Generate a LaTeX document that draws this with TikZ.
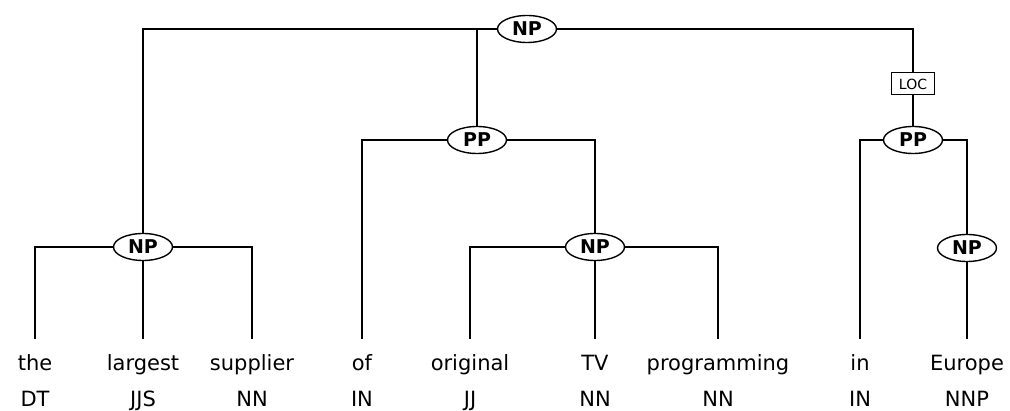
\documentclass[tikz,border=0pt]{standalone}
\usepackage{fontspec}
\setmainfont{DejaVu Sans}
\usetikzlibrary{shapes.geometric}
\begin{document}
\begin{tikzpicture}[x=1pt,y=-1pt,line width=1.1pt,
  cat/.style={ellipse, draw=black, line width=1.4pt, fill=white, minimum width=59pt, minimum height=27pt, inner sep=0pt, font=\fontsize{19}{19}\selectfont\bfseries},
  word/.style={anchor=base, text height=16pt, inner ysep=15pt, inner xsep=0pt, font=\fontsize{21}{21}\selectfont},
  tag/.style={anchor=base, inner sep=0pt, font=\fontsize{21}{21}\selectfont},
  role/.style={draw=black, line width=1pt, fill=white, minimum width=43pt, minimum height=22pt, inner sep=0pt, font=\fontsize{14}{14}\selectfont}]
\useasboundingbox (0,0) rectangle (1010,411);
% phrase nodes
\node [cat] (np0) at (527,29) {NP};
\node [cat] (np1) at (143,247) {NP};
\node [cat] (pp1) at (477,140) {PP};
\node [cat] (np2) at (595,247) {NP};
\node [role] (loc) at (913,84) {LOC};
\node [cat] (pp2) at (913,140) {PP};
\node [cat] (np3) at (967,248) {NP};
% words
\node [word] (w1) at (35,371) {the};
\node [word] (w2) at (143,371) {largest};
\node [word] (w3) at (252,371) {supplier};
\node [word] (w4) at (362,371) {of};
\node [word] (w5) at (470,371) {original};
\node [word] (w6) at (595,371) {TV};
\node [word] (w7) at (718,371) {programming};
\node [word] (w8) at (860,371) {in};
\node [word] (w9) at (967,371) {Europe};
% tags
\node [tag] (t1) at (35,407) {DT};
\node [tag] (t2) at (143,407) {JJS};
\node [tag] (t3) at (252,407) {NN};
\node [tag] (t4) at (362,407) {IN};
\node [tag] (t5) at (470,407) {JJ};
\node [tag] (t6) at (595,407) {NN};
\node [tag] (t7) at (718,407) {NN};
\node [tag] (t8) at (860,407) {IN};
\node [tag] (t9) at (967,407) {NNP};
% edges
\draw (np0.west) -| (np1.north);
\draw (np0.west) -| (pp1.north);
\draw (np0.east) -| (loc.north);
\draw (loc.south) -- (pp2.north);
\draw (np1.west) -| (w1.north);
\draw (np1.south) -- (w2.north);
\draw (np1.east) -| (w3.north);
\draw (pp1.west) -| (w4.north);
\draw (pp1.east) -| (np2.north);
\draw (np2.west) -| (w5.north);
\draw (np2.south) -- (w6.north);
\draw (np2.east) -| (w7.north);
\draw (pp2.west) -| (w8.north);
\draw (pp2.east) -| (np3.north);
\draw (np3.south) -- (w9.north);
\end{tikzpicture}
\end{document}
